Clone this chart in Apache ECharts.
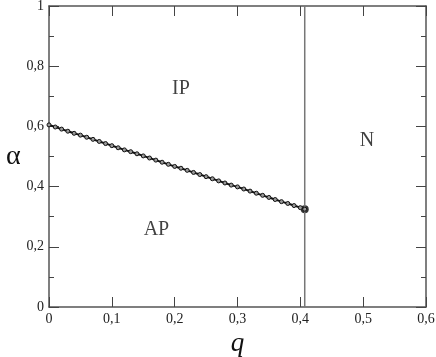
<!DOCTYPE html>
<html lang="en">
<head>
    <meta charset="UTF-8">
    <title>phase diagram</title>
    <script src="https://cdn.jsdelivr.net/npm/echarts@6/dist/echarts.min.js"></script>
    <style type="text/css">
        html, body { margin: 0; padding: 0; background: #fff; }
        #chart { width: 436px; height: 357px; }
    </style>
</head>
<body>
<div id="chart"></div>
<script>
    // boundary IP / AP
    var qValues = [0, 0.01, 0.02, 0.03, 0.04, 0.05, 0.06, 0.07, 0.08, 0.09,
        0.10, 0.11, 0.12, 0.13, 0.14, 0.15, 0.16, 0.17, 0.18, 0.19,
        0.20, 0.21, 0.22, 0.23, 0.24, 0.25, 0.26, 0.27, 0.28, 0.29,
        0.30, 0.31, 0.32, 0.33, 0.34, 0.35, 0.36, 0.37, 0.38, 0.39, 0.40, 0.407];
    var alphaValues = [0.605, 0.598, 0.591, 0.584, 0.577, 0.571, 0.564, 0.557, 0.550, 0.543,
        0.536, 0.529, 0.522, 0.516, 0.509, 0.502, 0.495, 0.488, 0.481, 0.474,
        0.467, 0.461, 0.454, 0.447, 0.440, 0.433, 0.426, 0.419, 0.412, 0.405,
        0.399, 0.392, 0.385, 0.378, 0.371, 0.364, 0.357, 0.350, 0.344, 0.337, 0.330, 0.325];
    // end point of the line
    var endPoint = [0.407, 0.325];
    // vertical boundary N
    var qCritical = 0.407;
    // region labels
    var regionNames = ['IP', 'N', 'AP'];
    var regionPos = [[0.21, 0.726], [0.506, 0.553], [0.171, 0.258]];

    var serif = '"Liberation Serif", "DejaVu Serif", serif';
    function comma(v) { return String(v).replace('.', ','); }

    var lineData = [];
    for (var i = 0; i < qValues.length; i++) {
        lineData.push([qValues[i], alphaValues[i]]);
    }
    var labelData = [];
    for (var j = 0; j < regionNames.length; j++) {
        labelData.push({ value: regionPos[j], name: regionNames[j] });
    }

    var axisLine = { onZero: false, lineStyle: { color: '#555', width: 1.5 } };
    var tick = { inside: true, length: 10, lineStyle: { color: '#444' } };
    var minor = { show: true, splitNumber: 2, length: 5, lineStyle: { color: '#444' } };
    var myChart = echarts.init(document.getElementById('chart'));
    var option = {
        animation: false,
        grid: { left: 49, right: 10, top: 6, bottom: 50, containLabel: false, outerBoundsMode: 'none' },
        xAxis: [{
            type: 'value', min: 0, max: 0.6, interval: 0.1,
            name: 'q', nameLocation: 'middle', nameGap: 16,
            nameTextStyle: { fontFamily: serif, fontStyle: 'italic', fontSize: 27, color: '#111' },
            axisLine: axisLine,
            axisTick: tick,
            splitLine: { show: false },
            axisLabel: { fontFamily: serif, fontSize: 14, color: '#222', margin: 5, formatter: comma }
        }, {
            type: 'value', position: 'top', min: 0, max: 0.6, interval: 0.1,
            axisLine: axisLine,
            axisTick: tick,
            splitLine: { show: false },
            axisLabel: { show: false }
        }],
        yAxis: [{
            type: 'value', min: 0, max: 1, interval: 0.2,
            name: 'α', nameLocation: 'middle', nameGap: 22, nameRotate: 0,
            nameTextStyle: { fontFamily: serif, fontSize: 28, color: '#111' },
            axisLine: axisLine,
            axisTick: tick,
            minorTick: minor,
            splitLine: { show: false },
            axisLabel: { fontFamily: serif, fontSize: 14, color: '#222', margin: 5, formatter: comma }
        }, {
            type: 'value', position: 'right', min: 0, max: 1, interval: 0.2,
            axisLine: axisLine,
            axisTick: tick,
            minorTick: minor,
            splitLine: { show: false },
            axisLabel: { show: false }
        }],
        series: [{
            // vertical line
            type: 'line',
            data: [[qCritical, 0], [qCritical, 1]],
            symbol: 'none',
            lineStyle: { color: '#777', width: 1.5 }
        }, {
            type: 'line',
            data: lineData,
            symbol: 'circle', symbolSize: 4,
            itemStyle: { color: '#999', borderColor: '#111', borderWidth: 1 },
            lineStyle: { color: '#111', width: 2 }
        }, {
            type: 'scatter',
            data: [endPoint],
            symbolSize: 8,
            itemStyle: { color: '#000' }
        }, {
            type: 'scatter',
            data: labelData,
            symbolSize: 0,
            label: {
                show: true, position: 'inside',
                formatter: function (p) { return p.name; },
                fontFamily: serif, fontSize: 20, color: '#111'
            }
        }]
    };
    myChart.setOption(option);
</script>
</body>
</html>
